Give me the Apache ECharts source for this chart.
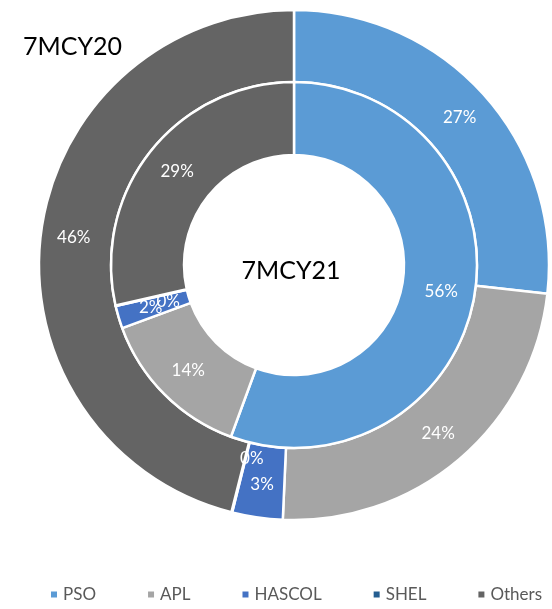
<!DOCTYPE html>
<html><head><meta charset="utf-8">
<script src="https://cdn.jsdelivr.net/npm/echarts@6/dist/echarts.min.js"></script>
<style>html,body{margin:0;padding:0;background:#fff}#c{width:552px;height:609px}</style>
</head><body><div id="c"></div>
<script>
const categories = ['PSO', 'APL', 'HASCOL', 'SHEL', 'Others'];
const colors = ['#5B9BD5', '#A5A5A5', '#4472C4', '#255E91', '#646464'];
const outerName = '7MCY20';
const innerName = '7MCY21';
const outerValues = [26.8, 23.9, 3.2, 0.05, 46.05];
const innerValues = [55.6, 13.8, 2.0, 0.05, 28.55];

const font = 'Lato, "Noto Sans", sans-serif';
// label nudges for the crowded near-zero slices (style only)
const outerLabelNudge = { SHEL: [12, -22] };
const innerLabelNudge = { SHEL: [20, 3] };
function mk(vals, nudge) {
  return categories.map((n, i) => {
    const d = { name: n, value: vals[i], itemStyle: { color: colors[i] } };
    if (nudge[n]) d.label = { offset: nudge[n] };
    return d;
  });
}
const labelCfg = {
  show: true, position: 'inside', color: '#fff', fontSize: 17, fontFamily: font,
  formatter: p => Math.round(p.value) + '%'
};
const chart = echarts.init(document.getElementById('c'));
chart.setOption({
  animation: false,
  title: [
    { text: outerName, left: 18, top: 29, textStyle: { fontSize: 25, fontWeight: 'normal', color: '#000', fontFamily: font } },
    { text: innerName, left: 286, top: 266, textAlign: 'center', textVerticalAlign: 'middle', textStyle: { fontSize: 25, fontWeight: 'normal', color: '#000', fontFamily: font } }
  ],
  legend: {
    bottom: 1, left: 44, width: 560, icon: 'rect', itemWidth: 8, itemHeight: 8, itemGap: 50,
    textStyle: { fontSize: 17, color: '#595959', fontFamily: font },
    data: categories
  },
  series: [
    {
      name: outerName, type: 'pie', center: [294, 265], radius: [183, 255],
      startAngle: 90, clockwise: true, avoidLabelOverlap: false, minShowLabelAngle: 0,
      itemStyle: { borderColor: '#fff', borderWidth: 2.5 },
      label: labelCfg, labelLine: { show: false }, labelLayout: { hideOverlap: false },
      data: mk(outerValues, outerLabelNudge)
    },
    {
      name: innerName, type: 'pie', center: [294, 265], radius: [110, 183],
      startAngle: 90, clockwise: true, avoidLabelOverlap: false, minShowLabelAngle: 0,
      itemStyle: { borderColor: '#fff', borderWidth: 2.5 },
      label: labelCfg, labelLine: { show: false }, labelLayout: { hideOverlap: false },
      data: mk(innerValues, innerLabelNudge)
    }
  ]
});
</script></body></html>
